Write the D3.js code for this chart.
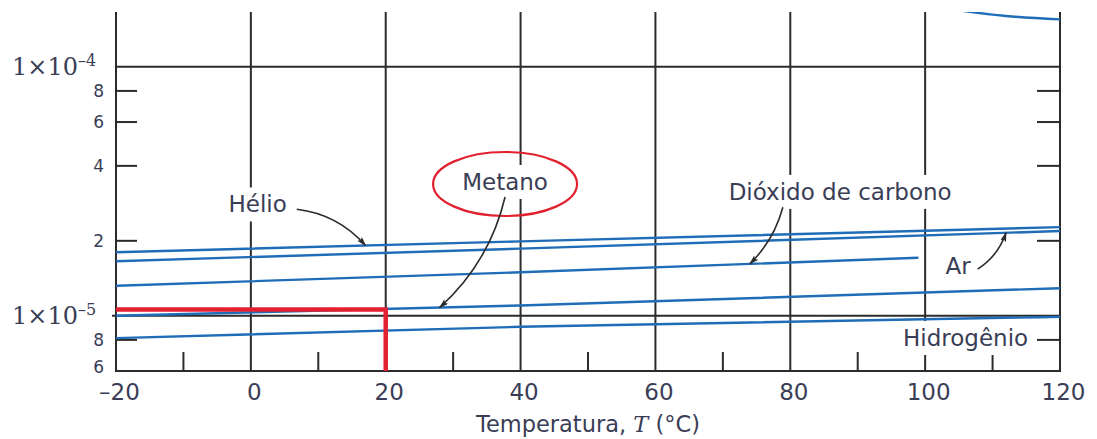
<!DOCTYPE html>
<html>
<head>
<meta charset="utf-8">
<script src="https://cdn.jsdelivr.net/npm/d3@7"></script>
<style>
  body { margin: 0; background: #fff; }
  svg { display: block; }
</style>
</head>
<body>
<svg width="1097" height="439"></svg>
<script>
// viscosity of gases vs temperature (log scale)

// temperatures (°C) for each curve
const helioT = [-20, 40, 120];
const helioV = [1.80e-5, 1.99e-5, 2.27e-5];
const arT = [-20, 40, 120];
const arV = [1.655e-5, 1.86e-5, 2.19e-5];
const co2T = [-20, 40, 99];
const co2V = [1.32e-5, 1.495e-5, 1.71e-5];
const metanoT = [-20, 40, 120];
const metanoV = [1.0e-5, 1.10e-5, 1.29e-5];
const hidrogenioT = [-20, 40, 120];
const hidrogenioV = [0.813e-5, 0.903e-5, 0.99e-5];
// curve leaving through the top right corner
const topCurveT = [104, 112, 120];
const topCurveV = [1.70e-4, 1.60e-4, 1.55e-4];

// ticks
const xMajor = [-20, 0, 20, 40, 60, 80, 100, 120];
const xMinor = [-10, 10, 30, 50, 70, 90, 110];
const yDecades = [1e-5, 1e-4];
const yMinor = [8e-5, 6e-5, 4e-5, 2e-5, 8e-6];
const yMinorLabels = [8e-5, 6e-5, 4e-5, 2e-5, 8e-6, 6e-6];

// red reading guide (T, value)
const guideT = 20;
const guideV = 1.06e-5;

const svg = d3.select("svg");
const plotL = 116, plotR = 1060, plotT = 12, plotB = 371;

const x = d3.scaleLinear().domain([-20, 120]).range([plotL, plotR]);
const y = d3.scaleLog().domain([6e-6, 1.66e-4]).range([plotB, plotT]);

const ink = "#2b2b2b";
const textCol = "#3a3d56";
const blue = "#1f6db8";
const red = "#e3202f";

const toPts = (ts, vs) => ts.map((t, i) => [t, vs[i]]);
const series = [
  { name: "Hélio", pts: toPts(helioT, helioV) },
  { name: "Ar", pts: toPts(arT, arV) },
  { name: "Dióxido de carbono", pts: toPts(co2T, co2V) },
  { name: "Metano", pts: toPts(metanoT, metanoV) },
  { name: "Hidrogênio", pts: toPts(hidrogenioT, hidrogenioV) },
  { name: "top", pts: toPts(topCurveT, topCurveV) },
];

// value on a curve at temperature t (log interpolation)
function valueAt(name, t) {
  const p = series.find((s) => s.name === name).pts;
  for (let i = 0; i < p.length - 1; i++) {
    if (t >= p[i][0] && t <= p[i + 1][0]) {
      const k = (t - p[i][0]) / (p[i + 1][0] - p[i][0]);
      return Math.exp(Math.log(p[i][1]) + k * (Math.log(p[i + 1][1]) - Math.log(p[i][1])));
    }
  }
  return p[p.length - 1][1];
}

const defs = svg.append("defs");
defs.append("clipPath").attr("id", "plot")
  .append("rect").attr("x", plotL).attr("y", plotT)
  .attr("width", plotR - plotL).attr("height", plotB - plotT);

const marker = defs.append("marker")
  .attr("id", "head")
  .attr("markerUnits", "userSpaceOnUse")
  .attr("viewBox", "0 0 10 6")
  .attr("refX", 9).attr("refY", 3)
  .attr("markerWidth", 10).attr("markerHeight", 6)
  .attr("orient", "auto");
marker.append("path").attr("d", "M0,0 L10,3 L0,6 L2,3 Z").attr("fill", ink);

const gridG = svg.append("g");
const maskG = svg.append("g");
const dataG = svg.append("g").attr("clip-path", "url(#plot)");
const annG = svg.append("g");

// grid lines
gridG.selectAll(".vg").data(xMajor).enter().append("line")
  .attr("x1", (d) => x(d)).attr("x2", (d) => x(d))
  .attr("y1", plotT).attr("y2", plotB)
  .attr("stroke", ink).attr("stroke-width", 2);
gridG.selectAll(".hg").data(yDecades).enter().append("line")
  .attr("x1", (d) => (d === 1e-5 ? plotL - 4 : plotL)).attr("x2", plotR)
  .attr("y1", (d) => y(d)).attr("y2", (d) => y(d))
  .attr("stroke", ink).attr("stroke-width", 2);
gridG.append("line")
  .attr("x1", plotL - 1).attr("x2", plotR + 1)
  .attr("y1", plotB).attr("y2", plotB)
  .attr("stroke", ink).attr("stroke-width", 2);
gridG.selectAll(".xm").data(xMinor).enter().append("line")
  .attr("x1", (d) => x(d)).attr("x2", (d) => x(d))
  .attr("y1", plotB).attr("y2", plotB - 19)
  .attr("stroke", ink).attr("stroke-width", 2);
gridG.selectAll(".ylm").data(yMinor).enter().append("line")
  .attr("x1", plotL).attr("x2", plotL + 21)
  .attr("y1", (d) => y(d)).attr("y2", (d) => y(d))
  .attr("stroke", ink).attr("stroke-width", 2);
gridG.selectAll(".yrm").data(yMinor).enter().append("line")
  .attr("x1", plotR - 23).attr("x2", plotR)
  .attr("y1", (d) => y(d)).attr("y2", (d) => y(d))
  .attr("stroke", ink).attr("stroke-width", 2);

// axis labels
const xAxis = svg.append("g")
  .attr("transform", `translate(0,${plotB})`)
  .call(d3.axisBottom(x).tickValues(xMajor).tickSize(0).tickPadding(12)
    .tickFormat((d) => (d < 0 ? "\u2013" + -d : d)));
xAxis.select(".domain").remove();
xAxis.selectAll("text").attr("font-family", "DejaVu Sans").attr("font-size", 23)
  .attr("fill", textCol).attr("dy", "0.72em").attr("dx", 3);

const yAxis = svg.append("g")
  .attr("transform", `translate(${plotL},0)`)
  .call(d3.axisLeft(y).tickValues(yMinorLabels).tickSize(0).tickPadding(12)
    .tickFormat((d) => Math.round(d / Math.pow(10, Math.floor(Math.log10(d) + 1e-9)))));
yAxis.select(".domain").remove();
yAxis.selectAll("text").attr("font-family", "DejaVu Sans").attr("font-size", 17)
  .attr("fill", textCol)
  .attr("dy", (d) => (d === 6e-6 ? "0.1em" : "0.32em"));

const dec = svg.append("g").selectAll("text").data(yDecades).enter().append("text")
  .attr("x", 12).attr("y", (d) => y(d) + 8)
  .attr("font-family", "DejaVu Serif").attr("font-size", 24).attr("fill", textCol);
dec.append("tspan").text("1\u00d710");
dec.append("tspan").attr("dy", -9).attr("font-size", 16)
  .text((d) => "\u2013" + -Math.round(Math.log10(d)));

const title = svg.append("text")
  .attr("x", (plotL + plotR) / 2).attr("y", 432)
  .attr("text-anchor", "middle")
  .attr("font-family", "DejaVu Sans").attr("font-size", 22.5).attr("fill", textCol);
title.append("tspan").text("Temperatura, ");
title.append("tspan").attr("font-family", "DejaVu Serif").attr("font-style", "italic").text("T");
title.append("tspan").text(" (\u00b0C)");

// data curves
const line = d3.line().x((d) => x(d[0])).y((d) => y(d[1])).curve(d3.curveMonotoneX);
dataG.selectAll("path").data(series).enter().append("path")
  .attr("d", (d) => line(d.pts))
  .attr("fill", "none").attr("stroke", blue).attr("stroke-width", 2.4);

// red reading guide
annG.append("path")
  .attr("d", `M${plotL},${y(guideV)} H${x(guideT)} V${plotB}`)
  .attr("fill", "none").attr("stroke", red).attr("stroke-width", 4.5);

// annotations: label (T, value baseline), arrow start, arrow tip T on curve
const annotations = [
  { label: "Hélio", t: 1, v: 2.6e-5, from: [6.8, 2.68e-5], tipT: 17, bend: -15 },
  { label: "Metano", t: 37.7, v: 3.2e-5, from: [37.7, 3.0e-5], tipT: 28, bend: -20 },
  { label: "Dióxido de carbono", t: 87.4, v: 2.92e-5, from: [78.9, 2.73e-5], tipT: 74, bend: -9 },
  { label: "Ar", t: 104.9, v: 1.47e-5, from: [107.8, 1.54e-5], tipT: 112, bend: 8 },
  { label: "Hidrogênio", t: 106, v: 7.56e-6 },
];

annotations.forEach((a) => {
  const tx = annG.append("text")
    .attr("x", x(a.t)).attr("y", y(a.v))
    .attr("text-anchor", "middle")
    .attr("font-family", "DejaVu Sans").attr("font-size", 23)
    .attr("fill", textCol).text(a.label);
  const bb = tx.node().getBBox();
  maskG.append("rect")
    .attr("x", bb.x - 2).attr("y", y(a.v) - 25)
    .attr("width", bb.width + 4).attr("height", 34)
    .attr("fill", "#fff");
  if (a.label === "Metano") {
    annG.append("ellipse")
      .attr("cx", bb.x + bb.width / 2).attr("cy", y(a.v) - 6)
      .attr("rx", 72).attr("ry", 32)
      .attr("fill", "none").attr("stroke", red).attr("stroke-width", 2.2);
  }
  if (a.from) {
    const x0 = x(a.from[0]), y0 = y(a.from[1]);
    const x1 = x(a.tipT), y1 = y(valueAt(a.label, a.tipT));
    const dx = x1 - x0, dy = y1 - y0, len = Math.hypot(dx, dy);
    const cx = (x0 + x1) / 2 + (-dy / len) * a.bend;
    const cy = (y0 + y1) / 2 + (dx / len) * a.bend;
    annG.append("path")
      .attr("d", `M${x0},${y0} Q${cx},${cy} ${x1},${y1}`)
      .attr("fill", "none").attr("stroke", ink).attr("stroke-width", 1.6)
      .attr("marker-end", "url(#head)");
  }
});
</script>
</body>
</html>
